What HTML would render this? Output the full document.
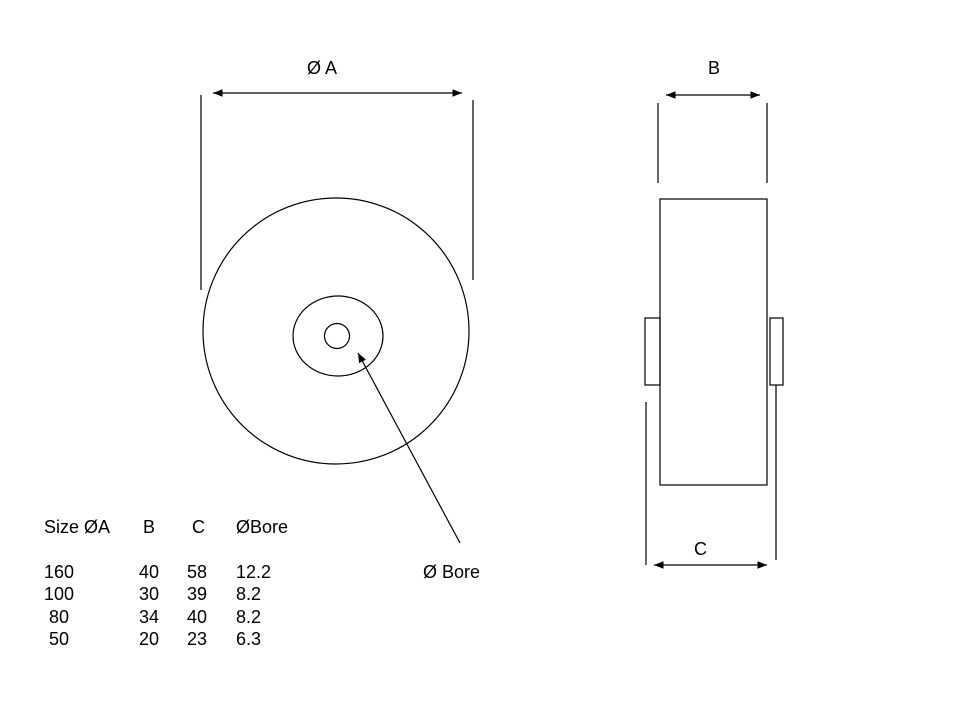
<!DOCTYPE html>
<html><head><style>
body{margin:0;background:#fff;}
svg{display:block;}
text{font-family:"Liberation Sans",Arial,sans-serif;font-size:18px;fill:#000;}
</style></head><body>
<svg width="960" height="720" viewBox="0 0 960 720" xmlns="http://www.w3.org/2000/svg">
<defs><marker id="a" viewBox="0 0 10 10" refX="10" refY="5" markerWidth="8" markerHeight="8" orient="auto-start-reverse"><path d="M0,1 L10,5 L0,9 z" fill="#000"/></marker></defs>
<g stroke="#000" stroke-width="1.2" fill="none">
<line x1="201" y1="95" x2="201" y2="290"/>
<line x1="473" y1="100" x2="473" y2="280"/>
<line x1="213" y1="93" x2="462" y2="93" marker-start="url(#a)" marker-end="url(#a)"/>
<circle cx="336" cy="331" r="133"/>
<ellipse cx="338" cy="336" rx="45" ry="40"/>
<circle cx="337" cy="336" r="12.5"/>
<line x1="460" y1="543" x2="358" y2="353" marker-end="url(#a)"/>
<line x1="658" y1="103" x2="658" y2="183"/>
<line x1="767" y1="103" x2="767" y2="183"/>
<line x1="666" y1="95" x2="760" y2="95" marker-start="url(#a)" marker-end="url(#a)"/>
<rect x="660" y="199" width="107" height="286"/>
<rect x="645" y="318" width="15" height="67"/>
<rect x="770" y="318" width="13" height="67"/>
<line x1="646" y1="402" x2="646" y2="565"/>
<line x1="776" y1="385" x2="776" y2="560"/>
<line x1="654" y1="565" x2="767" y2="565" marker-start="url(#a)" marker-end="url(#a)"/>
</g>
<text x="307" y="74">Ø A</text>
<text x="708" y="74">B</text>
<text x="694" y="555">C</text>
<text x="423" y="578">Ø Bore</text>
<text x="44" y="533">Size ØA</text>
<text x="143" y="533">B</text>
<text x="192" y="533">C</text>
<text x="236" y="533">ØBore</text>
<text x="44" y="578">160</text><text x="139" y="578">40</text><text x="187" y="578">58</text><text x="236" y="578">12.2</text>
<text x="44" y="600">100</text><text x="139" y="600">30</text><text x="187" y="600">39</text><text x="236" y="600">8.2</text>
<text x="49" y="623">80</text><text x="139" y="623">34</text><text x="187" y="623">40</text><text x="236" y="623">8.2</text>
<text x="49" y="645">50</text><text x="139" y="645">20</text><text x="187" y="645">23</text><text x="236" y="645">6.3</text>
</svg>
</body></html>
